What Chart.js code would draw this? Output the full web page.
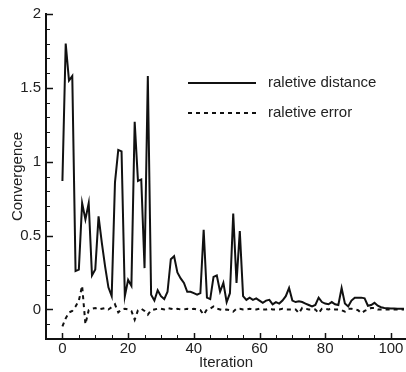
<!DOCTYPE html>
<html>
<head>
<meta charset="utf-8">
<script src="https://cdn.jsdelivr.net/npm/chart.js@4"></script>
<style>
  html, body { margin: 0; padding: 0; background: #fff; }
  #wrap { width: 406px; height: 372px; position: relative; }
</style>
</head>
<body>
<div id="wrap"><canvas id="conv"></canvas></div>
<script>
// ── Data ──
const seriesNames = ['raletive distance', 'raletive error'];

const distance = [
  0.87, 1.80, 1.55, 1.58, 0.26, 0.27, 0.72, 0.61, 0.72, 0.23,
  0.27, 0.63, 0.45, 0.29, 0.15, 0.09, 0.86, 1.08, 1.07, 0.09,
  0.20, 0.16, 1.27, 0.87, 0.88, 0.28, 1.58, 0.10, 0.06, 0.13,
  0.09, 0.07, 0.12, 0.34, 0.36, 0.25, 0.21, 0.18, 0.12, 0.12,
  0.11, 0.10, 0.11, 0.54, 0.08, 0.07, 0.22, 0.23, 0.12, 0.18,
  0.05, 0.11, 0.65, 0.18, 0.53, 0.09, 0.065, 0.08, 0.065, 0.075,
  0.06, 0.045, 0.06, 0.065, 0.035, 0.05, 0.04, 0.06, 0.09, 0.145,
  0.06, 0.05, 0.055, 0.05, 0.04, 0.03, 0.02, 0.03, 0.08, 0.05,
  0.04, 0.035, 0.05, 0.035, 0.03, 0.145, 0.04, 0.02, 0.06, 0.08,
  0.08, 0.08, 0.075, 0.025, 0.03, 0.045, 0.025, 0.015, 0.01, 0.008,
  0.006, 0.006, 0.005, 0.004, 0.004
];

const error = [
  -0.115, -0.06, -0.02, -0.01, 0.02, 0.06, 0.16, -0.10, -0.005, 0.005,
  0.01, 0.0, 0.005, 0.01, 0.0, 0.015, 0.035, -0.02, 0.0, 0.005,
  0.0, -0.01, -0.07, -0.005, 0.005, -0.01, -0.035, -0.005, 0.0, 0.005,
  0.005, 0.0, 0.01, 0.005, 0.0, 0.005, 0.0, 0.0, 0.005, 0.0,
  0.005, 0.0, -0.005, -0.035, 0.0, 0.005, 0.02, 0.005, 0.0, -0.005,
  0.0, -0.005, -0.015, 0.005, 0.005, 0.0, 0.0, 0.005, 0.0, 0.0,
  0.005, 0.0, 0.0, 0.005, 0.0, 0.0, 0.0, 0.005, 0.0, 0.0,
  0.0, 0.0, -0.025, 0.01, 0.005, 0.0, 0.0, 0.0, -0.025, 0.005,
  0.005, 0.0, 0.005, 0.0, 0.0, -0.005, -0.015, 0.005, 0.005, 0.0,
  -0.005, -0.025, -0.01, 0.0, 0.01, 0.01, 0.0, 0.0, 0.0, 0.0,
  0.0, 0.0, 0.0, 0.0, 0.0
];

// iteration number is just the index
const iterations = distance.map((_, i) => i);

const xTicks = [0, 20, 40, 60, 80, 100];
const yTicks = [0, 0.5, 1, 1.5, 2];

Chart.defaults.font.family = "'Liberation Sans', Arial, sans-serif";
Chart.defaults.font.size = 15;
Chart.defaults.color = '#222';

// ── Inward tick marks + legend drawn in the plot ──
const plotExtras = {
  id: 'plotExtras',
  afterDraw(chart) {
    const { ctx, chartArea: a, scales: { x, y } } = chart;
    ctx.save();
    ctx.strokeStyle = '#111';

    // x ticks every 5, major every 20
    for (let v = 0; v <= x.max; v += 5) {
      const px = Math.round(x.getPixelForValue(v)) + 0.5;
      const major = v % 20 === 0;
      ctx.lineWidth = major ? 1.5 : 1;
      ctx.beginPath();
      ctx.moveTo(px, a.bottom);
      ctx.lineTo(px, a.bottom - (major ? 6 : 4));
      ctx.stroke();
    }
    // y ticks every 0.1, major every 0.5
    for (let k = -1; k <= 20; k++) {
      const v = k / 10;
      const py = Math.round(y.getPixelForValue(v)) + 0.5;
      const major = k % 5 === 0;
      ctx.lineWidth = major ? 1.5 : 1;
      ctx.beginPath();
      ctx.moveTo(a.left, py);
      ctx.lineTo(a.left + (major ? 7 : 4), py);
      ctx.stroke();
    }

    // legend
    const items = chart.data.datasets;
    ctx.font = "15px 'Liberation Sans', Arial, sans-serif";
    ctx.fillStyle = '#222';
    ctx.textBaseline = 'middle';
    items.forEach((ds, i) => {
      const ly = 83 + i * 30;
      ctx.lineWidth = 2;
      ctx.strokeStyle = ds.borderColor;
      ctx.setLineDash(ds.borderDash || []);
      ctx.beginPath();
      ctx.moveTo(188, ly);
      ctx.lineTo(256, ly);
      ctx.stroke();
      ctx.setLineDash([]);
      ctx.fillText(ds.label, 268, ly);
    });
    ctx.restore();
  }
};

new Chart(document.getElementById('conv'), {
  type: 'line',
  data: {
    datasets: [
      {
        label: seriesNames[0],
        data: iterations.map(i => ({ x: i, y: distance[i] })),
        borderColor: '#111',
        borderWidth: 2,
        pointRadius: 0,
        tension: 0
      },
      {
        label: seriesNames[1],
        data: iterations.map(i => ({ x: i, y: error[i] })),
        borderColor: '#111',
        borderWidth: 2,
        borderDash: [4, 4],
        pointRadius: 0,
        tension: 0
      }
    ]
  },
  options: {
    responsive: true,
    maintainAspectRatio: false,
    animation: false,
    layout: { padding: { top: 14, right: 0, left: 0, bottom: 0 } },
    plugins: {
      legend: { display: false },
      tooltip: { enabled: false }
    },
    scales: {
      x: {
        type: 'linear',
        min: -5,
        max: 104.6,
        afterFit: s => { s.height = 33; },
        afterBuildTicks: s => { s.ticks = xTicks.map(v => ({ value: v })); },
        grid: { display: false, drawTicks: false },
        border: { display: true, color: '#111', width: 2 },
        ticks: { padding: 1, maxRotation: 0, callback: v => String(v) },
        title: { display: true, text: 'Iteration', padding: { top: 0, bottom: 0 } }
      },
      y: {
        min: -0.2,
        max: 2,
        afterFit: s => { s.width = 46; },
        afterBuildTicks: s => { s.ticks = yTicks.map(v => ({ value: v })); },
        grid: { display: false, drawTicks: false },
        border: { display: true, color: '#111', width: 2 },
        ticks: { padding: 5, callback: v => String(v) },
        title: { display: true, text: 'Convergence', padding: { top: 9, bottom: 0 } }
      }
    }
  },
  plugins: [plotExtras]
});
</script>
</body>
</html>
